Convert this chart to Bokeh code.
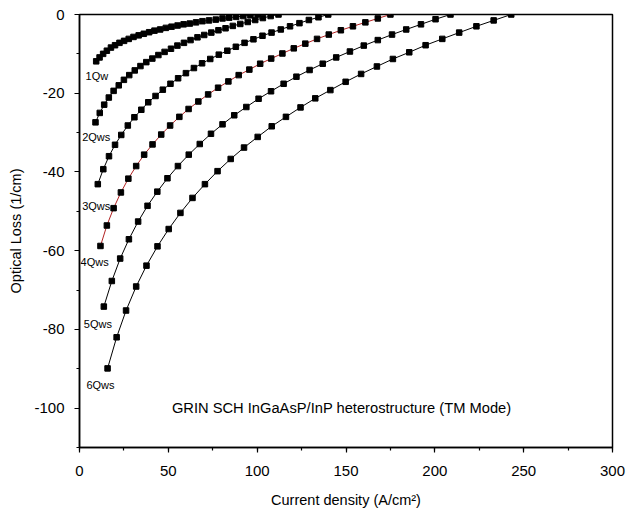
from bokeh.plotting import figure
from bokeh.models import Range1d, SingleIntervalTicker, Label, ColumnDataSource, CustomJSTickFormatter
from bokeh.embed import file_html
from bokeh.resources import INLINE
from bokeh.core.properties import value

# ---- data ----
series_names = ["1Qw", "2Qws", "3Qws", "4Qws", "5Qws", "6Qws"]

x1 = [9.4, 11.3, 13.3, 15.4, 17.7, 20.0, 22.5, 25.1, 27.7, 30.4, 33.3, 36.2, 39.2, 42.2, 45.4,
      48.6, 51.8, 55.2, 58.6, 62.1, 65.6, 69.2, 72.9, 76.7, 80.5, 84.3, 88.2, 92.2, 96.2, 100.3]
y1 = [-11.9, -10.9, -10.0, -9.2, -8.4, -7.8, -7.2, -6.7, -6.2, -5.7, -5.3, -4.9, -4.5, -4.1, -3.8,
      -3.4, -3.1, -2.8, -2.5, -2.3, -2.0, -1.7, -1.5, -1.3, -1.0, -0.8, -0.6, -0.4, -0.2, 0.0]

x2 = [9.0, 11.4, 13.9, 16.5, 19.2, 22.1, 25.0, 28.0, 31.1, 34.3, 37.6, 41.0, 44.4, 47.9, 51.5,
      55.1, 58.8, 62.5, 66.4, 70.2, 74.2, 78.2, 82.2, 86.3, 90.5, 94.7, 98.9, 103.2, 107.6, 112.0]
y2 = [-27.4, -25.0, -22.9, -21.1, -19.4, -18.0, -16.6, -15.4, -14.2, -13.1, -12.1, -11.2, -10.3, -9.5, -8.7,
      -7.9, -7.2, -6.5, -5.8, -5.2, -4.6, -4.0, -3.5, -2.9, -2.4, -1.9, -1.4, -0.9, -0.4, 0.0]

x3 = [10.3, 13.4, 16.6, 20.0, 23.5, 27.2, 30.9, 34.8, 38.7, 42.8, 46.9, 51.2, 55.5, 59.9, 64.4,
      69.0, 73.6, 78.4, 83.2, 88.0, 92.9, 97.9, 103.0, 108.1, 113.3, 118.5, 123.8, 129.1, 134.5, 140.0]
y3 = [-43.1, -39.3, -36.0, -33.1, -30.6, -28.2, -26.1, -24.2, -22.3, -20.7, -19.1, -17.6, -16.2, -14.9, -13.6,
      -12.4, -11.3, -10.2, -9.2, -8.2, -7.2, -6.3, -5.4, -4.6, -3.8, -3.0, -2.2, -1.4, -0.7, 0.0]

x4 = [11.8, 15.4, 19.2, 23.3, 27.5, 31.9, 36.4, 41.1, 46.0, 51.0, 56.2, 61.4, 66.9, 72.4, 78.0,
      83.8, 89.6, 95.6, 101.7, 107.9, 114.2, 120.6, 127.1, 133.7, 140.3, 147.1, 153.9, 160.9, 167.9, 175.0]
y4 = [-58.8, -53.6, -49.2, -45.2, -41.7, -38.5, -35.6, -33.0, -30.5, -28.2, -26.0, -24.0, -22.1, -20.3, -18.6,
      -17.0, -15.4, -14.0, -12.5, -11.2, -9.9, -8.6, -7.4, -6.2, -5.1, -4.0, -3.0, -2.0, -1.0, 0.0]

x5 = [13.7, 18.2, 22.9, 27.8, 33.0, 38.3, 43.8, 49.5, 55.4, 61.5, 67.7, 74.0, 80.5, 87.1, 93.9,
      100.8, 107.8, 114.9, 122.1, 129.5, 136.9, 144.5, 152.2, 160.0, 167.9, 175.9, 183.9, 192.2, 200.4, 208.8]
y5 = [-74.2, -67.7, -62.0, -57.1, -52.6, -48.6, -45.0, -41.6, -38.5, -35.6, -32.9, -30.3, -27.9, -25.6, -23.5,
      -21.4, -19.5, -17.6, -15.8, -14.1, -12.5, -10.9, -9.4, -7.9, -6.5, -5.1, -3.8, -2.5, -1.2, 0.0]

x6 = [15.8, 20.9, 26.2, 31.9, 37.7, 43.9, 50.2, 56.8, 63.6, 70.6, 77.7, 85.1, 92.6, 100.3, 108.2,
      116.2, 124.4, 132.7, 141.2, 149.8, 158.5, 167.4, 176.4, 185.6, 194.8, 204.2, 213.7, 223.4, 233.1, 243.0]
y6 = [-89.9, -82.0, -75.2, -69.1, -63.8, -58.9, -54.5, -50.4, -46.6, -43.1, -39.8, -36.7, -33.8, -31.1, -28.4,
      -26.0, -23.6, -21.3, -19.2, -17.1, -15.1, -13.2, -11.3, -9.6, -7.8, -6.2, -4.6, -3.0, -1.5, 0.0]

# label anchor points (data units) for the series names
label_x = [3.4, 1.5, 1.5, 0.6, 2.4, 3.9]
label_y = [-15.7, -31.1, -48.6, -63.0, -78.5, -94.0]

annotation = "GRIN SCH InGaAsP/InP heterostructure (TM Mode)"

FONT = "Liberation Sans"

p = figure(width=626, height=510, output_backend="svg", toolbar_location=None,
           x_range=Range1d(0, 300), y_range=Range1d(-110, 0),
           min_border_left=79, min_border_right=14, min_border_top=14, min_border_bottom=62,
           background_fill_color="white", border_fill_color="white")

p.xgrid.visible = False
p.ygrid.visible = False
p.outline_line_color = "black"
p.outline_line_width = 1.5

xs_all = [x1, x2, x3, x4, x5, x6]
ys_all = [y1, y2, y3, y4, y5, y6]
line_colors = ["black", "black", "black", "#b22222", "black", "black"]

for xs, ys, lc in zip(xs_all, ys_all, line_colors):
    src = ColumnDataSource(dict(x=xs, y=ys))
    p.line("x", "y", source=src, line_color=lc, line_width=1)
    p.scatter("x", "y", source=src, marker="square", size=5.5,
              fill_color="black", line_color="black")

lab_src = ColumnDataSource(dict(x=label_x, y=label_y, t=series_names))
p.text("x", "y", text="t", source=lab_src, text_font=value(FONT), text_font_size="11px",
       text_baseline="alphabetic", text_align="left", text_color="black")

p.add_layout(Label(x=52, y=-100, text=annotation, text_font=FONT, text_font_size="14.7px",
                   text_baseline="alphabetic", text_align="left", text_color="black"))

p.xaxis.ticker = SingleIntervalTicker(interval=50, num_minor_ticks=2)
p.yaxis.ticker = SingleIntervalTicker(interval=20, num_minor_ticks=2)
p.xaxis.formatter = CustomJSTickFormatter(code="return tick.toFixed(0);")
p.yaxis.formatter = CustomJSTickFormatter(code="return tick.toFixed(0);")
p.xaxis.axis_label = "Current density (A/cm\u00b2)"
p.yaxis.axis_label = "Optical Loss (1/cm)"

for ax in (p.xaxis, p.yaxis):
    ax.axis_line_color = "black"
    ax.axis_line_width = 1.5
    ax.major_tick_line_color = "black"
    ax.minor_tick_line_color = "black"
    ax.major_tick_line_width = 1.2
    ax.minor_tick_line_width = 1.2
    ax.major_tick_in = 0
    ax.major_tick_out = 5
    ax.minor_tick_in = 0
    ax.minor_tick_out = 3
    ax.major_label_text_font = FONT
    ax.major_label_text_font_size = "15px"
    ax.major_label_text_color = "black"
    ax.axis_label_text_font = FONT
    ax.axis_label_text_font_size = "14.5px"
    ax.axis_label_text_font_style = "normal"
    ax.axis_label_text_color = "black"

p.xaxis.major_label_standoff = 13
p.xaxis.axis_label_standoff = 13
p.yaxis.major_label_standoff = 10
p.yaxis.axis_label_standoff = 7

open("out.html", "w").write(file_html(p, INLINE))
